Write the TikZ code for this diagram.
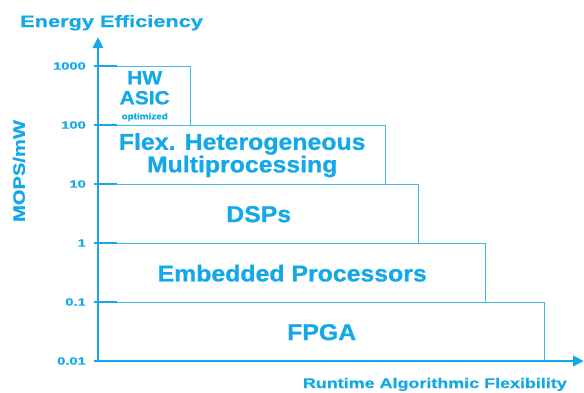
\documentclass[tikz,border=0pt]{standalone}
\usepackage{fontspec}
\setmainfont{Liberation Sans}[BoldFont={Liberation Sans Bold}]
\newfontfamily\bfam{Liberation Sans Bold}[FakeBold=0.8]
\usetikzlibrary{arrows.meta}
\definecolor{ec}{RGB}{20,168,232}
\newcommand{\hs}[2]{\scalebox{#1}[1]{#2}}
\begin{document}
\begin{tikzpicture}[x=1pt,y=-1pt,
  axisst/.style={draw=ec,line width=2.8pt},
  tickst/.style={draw=ec,line width=2.8pt},
  boxst/.style={draw=ec!80,line width=1.4pt,anchor=north west,inner sep=0pt,
    text=ec,font=\bfam\fontsize{23}{21}\selectfont,align=center},
  ticklab/.style={text=ec,font=\bfam\fontsize{10.5}{12}\selectfont,anchor=east,inner sep=0pt},
  axlab/.style={text=ec,font=\bfam\fontsize{16.5}{18}\selectfont,inner sep=0pt}]
\useasboundingbox (0,0) rectangle (584,392);
% boxes
\node[boxst,minimum width=92pt,minimum height=59pt] (hw) at (98,66)
  {\fontsize{19}{20}\selectfont\hs{1.1}{HW}\\[-1pt]\fontsize{19}{20}\selectfont\hs{1.1}{ASIC}\\[-6pt]\fontsize{9}{9}\selectfont\hs{1.1}{optimized}};
\node[boxst,minimum width=287pt,minimum height=59pt] (flex) at (98,125)
  {\hs{1.08}{Flex. Heterogeneous}\\\hs{1.08}{Multiprocessing}};
\node[boxst,minimum width=320pt,minimum height=59pt] (dsp) at (98,184) {\hs{1.08}{DSPs}};
\node[boxst,minimum width=387pt,minimum height=59pt] (emb) at (98,243) {\hs{1.08}{Embedded Processors}};
\node[boxst,minimum width=446pt,minimum height=59pt] (fpga) at (98,302) {\hs{1.08}{FPGA}};
% axes
\coordinate (o) at (98,361);
\coordinate (ytip) at (98,37);
\coordinate (xtip) at (584,361);
\draw[axisst,-{Triangle[length=11pt,width=10pt]}] (o) -- (ytip);
\draw[axisst,-{Triangle[length=11pt,width=10pt]}] (o) -- (xtip);
% ticks and labels
\foreach \yy/\lab/\nm in {66/1000/t0,125/100/t1,184/10/t2,243/1/t3,302/0.1/t4,361/0.01/t5}{
  \coordinate (\nm a) at (94,\yy);
  \coordinate (\nm b) at (117,\yy);
  \draw[tickst] (\nm a) -- (\nm b);
  \node[ticklab] (\nm l) at (86,\yy) {\hs{1.4}{\lab}};
}
\node[axlab,anchor=base west] (ee) at (20,27) {\hs{1.32}{Energy Efficiency}};
\node[axlab,rotate=90] (mops) at (19,171) {\hs{1.22}{MOPS/mW}};
\node[axlab,anchor=base east,font=\bfam\fontsize{14}{16}\selectfont] (raf) at (567,388) {\hs{1.28}{Runtime Algorithmic Flexibility}};
\end{tikzpicture}
\end{document}
